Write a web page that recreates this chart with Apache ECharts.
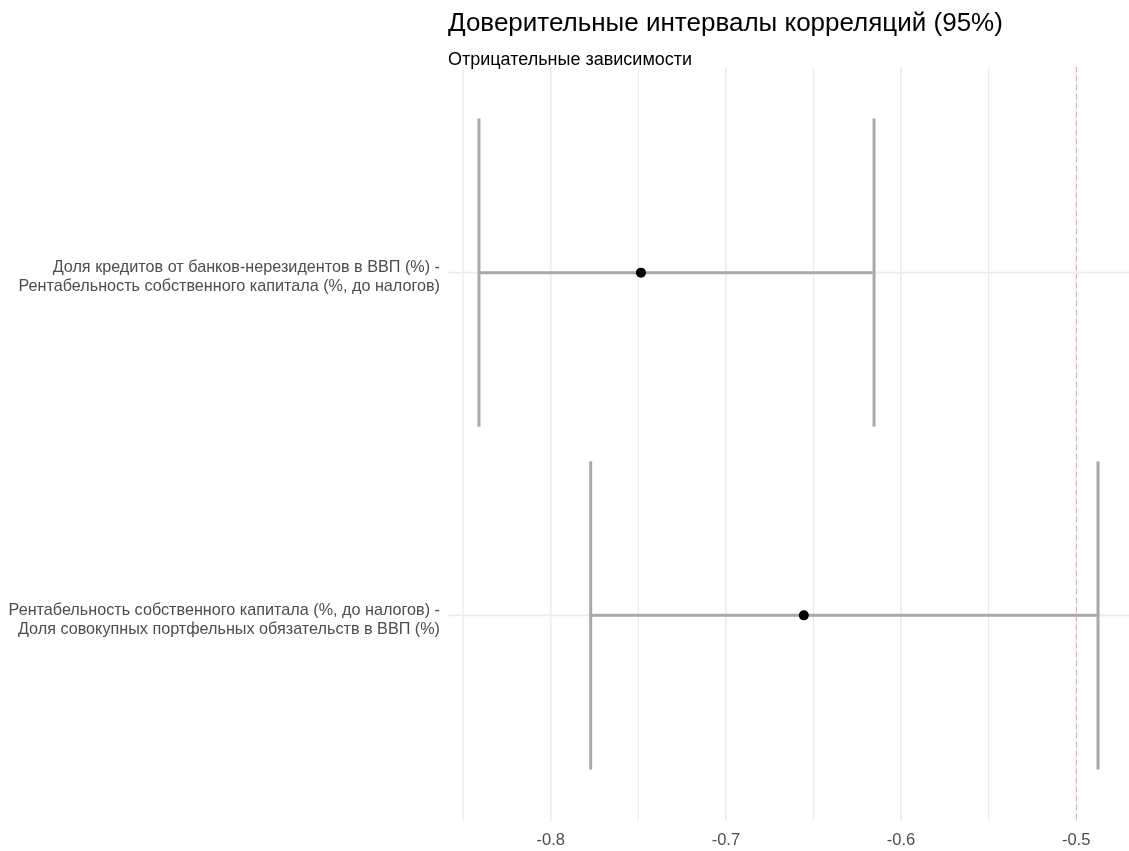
<!DOCTYPE html>
<html>
<head>
<meta charset="utf-8">
<script src="https://cdn.jsdelivr.net/npm/echarts@6/dist/echarts.min.js"></script>
<style>
  html, body { margin: 0; padding: 0; background: #fff; }
  #chart { width: 1129px; height: 851px; }
</style>
</head>
<body>
<div id="chart"></div>
<script>
// Correlation pairs (top to bottom) and their 95% confidence intervals
const pairLabels = [
  'Доля кредитов от банков-нерезидентов в ВВП (%) -\nРентабельность собственного капитала (%, до налогов)',
  'Рентабельность собственного капитала (%, до налогов) -\nДоля совокупных портфельных обязательств в ВВП (%)'
];
const estimates = [-0.7485, -0.6555];
const lowerBounds = [-0.841, -0.7772];
const upperBounds = [-0.6154, -0.4875];

const xTicks = [-0.8, -0.7, -0.6, -0.5];
const xMinorTicks = [-0.85, -0.75, -0.65, -0.55];
const referenceLine = -0.5;

const titleText = 'Доверительные интервалы корреляций (95%)';
const subtitleText = 'Отрицательные зависимости';

// Axis range with 5% padding on each side of the interval extent
const lo = Math.min(...lowerBounds), hi = Math.max(...upperBounds);
const pad = (hi - lo) * 0.05;
const rows = pairLabels.map((_, i) => i + 1);

const gridColor = '#EBEBEB';
const barColor = '#A9A9A9';
const capHalf = 0.45;
const font = 'Liberation Sans, Arial, sans-serif';

// Row label as rich text; a thin spacer line nudges the block slightly below the row
function rowLabel(v) {
  const text = pairLabels[Math.round(v) - 1];
  if (!text) return '';
  return '{s| }\n' + text.split('\n').map(l => '{t|' + l + '}').join('\n');
}

const chart = echarts.init(document.getElementById('chart'));

chart.setOption({
  animation: false,
  title: [
    { text: titleText, left: 443, top: 6,
      textStyle: { fontFamily: font, fontSize: 26, fontWeight: 'normal', color: '#000' } },
    { text: subtitleText, left: 443, top: 46,
      textStyle: { fontFamily: font, fontSize: 18, fontWeight: 'normal', color: '#000' } }
  ],
  grid: { left: 448, right: -2, top: 67, bottom: 30 },
  xAxis: {
    type: 'value',
    min: lo - pad,
    max: hi + pad,
    axisLine: { show: false },
    axisTick: { show: false, customValues: xTicks },
    splitLine: { show: false },
    axisLabel: {
      customValues: xTicks,
      formatter: v => String(Math.round(v * 10) / 10),
      color: '#4D4D4D', fontSize: 16.5, margin: 11,
      fontFamily: font
    }
  },
  yAxis: {
    type: 'value',
    min: 0.4,
    max: pairLabels.length + 0.6,
    inverse: true,
    axisLine: { show: false },
    axisTick: { show: false, customValues: rows },
    splitLine: { show: false },
    axisLabel: {
      customValues: rows,
      formatter: rowLabel,
      margin: 8,
      align: 'right',
      rich: {
        s: { fontSize: 1, lineHeight: 9 },
        t: { color: '#4D4D4D', fontSize: 16.2, lineHeight: 19, fontFamily: font, align: 'right' }
      }
    }
  },
  series: [
    {
      // panel gridlines: minor and major verticals, horizontals at each row
      type: 'custom',
      z: 1,
      silent: true,
      renderItem: function (params, api) {
        if (params.dataIndex !== 0) return null;
        const cs = params.coordSys;
        const children = [];
        xMinorTicks.forEach(v => {
          const x = api.coord([v, 1])[0];
          children.push({ type: 'line', shape: { x1: x, y1: cs.y, x2: x, y2: cs.y + cs.height },
            style: { stroke: gridColor, lineWidth: 1.2 } });
        });
        xTicks.forEach(v => {
          const x = api.coord([v, 1])[0];
          children.push({ type: 'line', shape: { x1: x, y1: cs.y, x2: x, y2: cs.y + cs.height },
            style: { stroke: gridColor, lineWidth: 1.6 } });
        });
        rows.forEach(r => {
          const y = api.coord([lo, r])[1];
          children.push({ type: 'line', shape: { x1: cs.x, y1: y, x2: cs.x + cs.width, y2: y },
            style: { stroke: gridColor, lineWidth: 1.6 } });
        });
        return { type: 'group', children };
      },
      data: [[lo, 1]]
    },
    {
      // horizontal error bars with end caps
      type: 'custom',
      z: 3,
      silent: true,
      renderItem: function (params, api) {
        const row = api.value(0), l = api.value(1), u = api.value(2);
        const pL = api.coord([l, row]);
        const pU = api.coord([u, row]);
        const top = api.coord([l, row - capHalf])[1];
        const bot = api.coord([l, row + capHalf])[1];
        const style = { stroke: barColor, lineWidth: 3 };
        return {
          type: 'group',
          children: [
            { type: 'line', shape: { x1: pL[0], y1: pL[1], x2: pU[0], y2: pU[1] }, style },
            { type: 'line', shape: { x1: pL[0], y1: top, x2: pL[0], y2: bot }, style },
            { type: 'line', shape: { x1: pU[0], y1: top, x2: pU[0], y2: bot }, style }
          ]
        };
      },
      encode: { x: [1, 2], y: 0 },
      data: rows.map((r, i) => [r, lowerBounds[i], upperBounds[i]])
    },
    {
      // point estimates
      type: 'scatter',
      z: 4,
      symbol: 'circle',
      symbolSize: 10,
      itemStyle: { color: '#000', opacity: 1 },
      data: rows.map((r, i) => [estimates[i], r])
    },
    {
      // reference line at the threshold
      type: 'line',
      data: [],
      silent: true,
      z: 5,
      markLine: {
        silent: true,
        symbol: 'none',
        label: { show: false },
        lineStyle: { color: '#F4A3A3', width: 1, type: [5, 4] },
        data: [{ xAxis: referenceLine }]
      }
    }
  ]
});
</script>
</body>
</html>
